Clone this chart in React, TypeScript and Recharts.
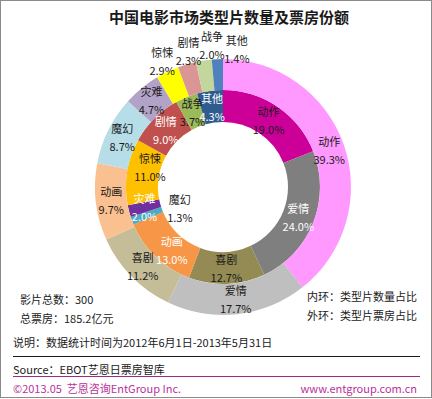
import { Cell, Pie, PieChart } from 'recharts';

// 类型（内外环顺序一致，顺时针从12点开始）
const GENRES = ['动作', '爱情', '喜剧', '动画', '魔幻', '灾难', '惊悚', '剧情', '战争', '其他'];
// 内环：类型片数量占比
const COUNT_SHARE = [19.0, 24.0, 12.7, 13.0, 1.3, 2.0, 11.0, 9.0, 3.7, 4.3];
// 外环：类型片票房占比
const BOX_SHARE = [39.3, 17.7, 11.2, 9.7, 8.7, 4.7, 2.9, 2.3, 2.0, 1.4];

const INNER_COLORS = ['#CC0099', '#7F7F7F', '#948A54', '#F79646', '#4BACC6', '#7030A0', '#FFC000', '#C0504D', '#9BBB59', '#2E5C8F'];
const OUTER_COLORS = ['#FF99FF', '#BFBFBF', '#C4BD97', '#FAC090', '#B7DEE8', '#B3A2C7', '#FFFF00', '#D99694', '#C3D69B', '#4F81BD'];
const INNER_WHITE = ['爱情', '动画', '灾难', '剧情', '其他'];

const innerData = GENRES.map((name, i) => ({ name, value: COUNT_SHARE[i] }));
const outerData = GENRES.map((name, i) => ({ name, value: BOX_SHARE[i] }));

const RAD = Math.PI / 180;
const FONT = '"Noto Sans CJK SC", "Noto Sans", sans-serif';

// 个别标签的微调
const INNER_NUDGE: Record<string, [number, number]> = {
  动画: [5, 5],
  惊悚: [7, -7],
  魔幻: [0, 5],
};
const OUTER_NUDGE: Record<string, [number, number]> = {
  剧情: [5, -2],
  战争: [10, -4],
  其他: [20, 2],
};

function makeLabel(ring: 'inner' | 'outer') {
  return (props: any) => {
    const { cx, cy, midAngle, innerRadius, outerRadius, name, value } = props;
    let r = (innerRadius + outerRadius) / 2;
    if (ring === 'inner' && name === '魔幻') r = 46;
    if (ring === 'outer' && value < 3.5) r = outerRadius + 12;
    const nudge = (ring === 'inner' ? INNER_NUDGE : OUTER_NUDGE)[name] || [0, 0];
    const x = cx + r * Math.cos(-midAngle * RAD) + nudge[0];
    const y = cy + r * Math.sin(-midAngle * RAD) + nudge[1];
    const fill =
      ring === 'inner' && INNER_WHITE.includes(name) ? '#fff' : '#1a1a1a';
    return (
      <g>
        <text x={x} y={y - 9} fill={fill} fontSize={11} fontFamily={FONT} textAnchor="middle" dominantBaseline="central">
          {name}
        </text>
        <text x={x} y={y + 9} fill={fill} fontSize={11} fontFamily={FONT} textAnchor="middle" dominantBaseline="central">
          {value.toFixed(1)}%
        </text>
      </g>
    );
  };
}

const txt = (top: number, left: number, extra: any = {}) => ({
  position: 'absolute' as const,
  top,
  left,
  fontSize: 11,
  lineHeight: '16px',
  color: '#1a1a1a',
  whiteSpace: 'nowrap' as const,
  ...extra,
});

export default function App() {
  return (
    <div
      style={{
        position: 'absolute',
        top: 0,
        left: 0,
        width: 432,
        height: 398,
        boxSizing: 'border-box',
        border: '1px solid #8a8a8a',
        background: '#fff',
        fontFamily: FONT,
      }}
    >
      <div style={{ position: 'absolute', top: 0, left: 0 }}>
        <PieChart width={432} height={398} margin={{ top: 0, right: 0, bottom: 0, left: 0 }}>
          <Pie
            data={innerData}
            dataKey="value"
            nameKey="name"
            cx={222}
            cy={186}
            innerRadius={65}
            outerRadius={97}
            startAngle={90}
            endAngle={-270}
            stroke="none"
            label={makeLabel('inner')}
            labelLine={false}
            isAnimationActive={false}
          >
            {innerData.map((_, i) => (
              <Cell key={i} fill={INNER_COLORS[i]} />
            ))}
          </Pie>
          <Pie
            data={outerData}
            dataKey="value"
            nameKey="name"
            cx={222}
            cy={186}
            innerRadius={97}
            outerRadius={128}
            startAngle={90}
            endAngle={-270}
            stroke="none"
            label={makeLabel('outer')}
            labelLine={false}
            isAnimationActive={false}
          >
            {outerData.map((_, i) => (
              <Cell key={i} fill={OUTER_COLORS[i]} />
            ))}
          </Pie>
        </PieChart>
      </div>

      <div style={txt(6, 0, { width: 456, textAlign: 'center', fontSize: 15, fontWeight: 'bold', lineHeight: '20px' })}>
        中国电影市场类型片数量及票房份额
      </div>

      <div style={txt(290, 19)}>影片总数：300</div>
      <div style={txt(309, 19)}>总票房：185.2亿元</div>
      <div style={txt(287, 306)}>内环：类型片数量占比</div>
      <div style={txt(306, 306)}>外环：类型片票房占比</div>

      <div style={txt(333, 12)}>说明：数据统计时间为2012年6月1日-2013年5月31日</div>
      <div style={{ position: 'absolute', top: 355, left: 12, width: 407, height: 1, background: '#1a1a1a' }} />
      <div style={txt(360, 12)}>Source：EBOT艺恩日票房智库</div>
      <div style={{ position: 'absolute', top: 375, left: 12, width: 407, height: 1, background: '#9C2A86' }} />
      <div style={txt(379, 12, { color: '#B8329A' })}>©2013.05&nbsp;&nbsp;艺恩咨询EntGroup Inc.</div>
      <div style={txt(379, 0, { left: undefined, right: 14, color: '#B8329A' })}>www.entgroup.com.cn</div>
    </div>
  );
}
